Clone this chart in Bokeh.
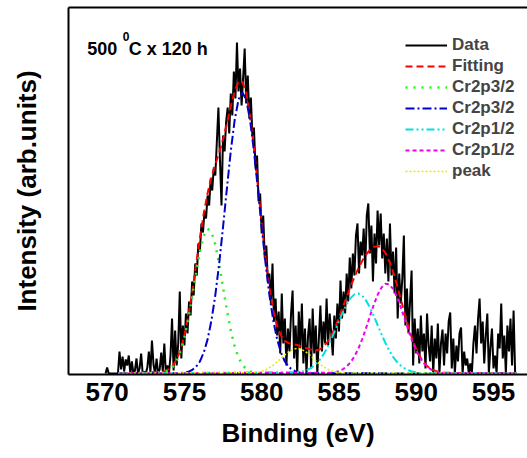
import numpy as np
from bokeh.plotting import figure
from bokeh.models import Range1d, LinearAxis, FixedTicker, Legend, LegendItem, Label
from bokeh.embed import file_html
from bokeh.resources import INLINE

FONT = "Liberation Sans"

# ---------------- data ----------------
data_start = 569.9
data_step = 0.1
intensity = [
    0, 6, 0, 0, 0, 0, 0, 0,                                   # 569.9 - 570.6
    0, 22, 4, 17, 2, 14, 8, 18, 0, 12, 0, 3, 15, 0, 5, 20, 0, 2, 0, 6,
    22, 1, 33, 9, 0, 15, 0, 4, 21, 2, 30, 0, 8,               # 570.7 - 573.9
    0, 18, 55, 3, 43, 8, 30, 82, 15, 48, 28, 60, 40, 72, 58, 92, 78, 110,
    98, 130, 122,                                             # 574.0 - 576.0
    150, 141, 162, 155, 178, 168, 195, 183, 206, 198,
    232, 266, 214, 168, 238, 222, 252, 266, 240, 280,         # 576.1 - 578.0
    258, 302, 275, 331, 282, 305, 268, 296, 325, 270, 298, 255, 276, 238, 246,
    205, 218, 172, 180, 140, 158, 115, 128, 92, 100, 70, 110, 52, 75, 38,
    62, 20, 80, 30, 55, 8, 45, 22, 60, 83,                    # 579.6 - 582.0
    15, 48, 0, 62, 25, 70, 10, 45, 0, 38, 55, 5, 65, 20, 48, 0, 35, 68,
    22, 52, 30, 75, 28, 60,                                   # 582.1 - 584.4
    40, 18, 58, 35, 70, 42, 93, 55, 82, 60,
    100, 72, 116, 85, 120, 98, 138, 150, 100, 132,
    118, 145, 105, 158, 170, 120, 148, 92, 140, 110,
    163, 128, 160, 115, 140, 100, 135, 92, 150, 98,
    122, 80, 126, 55, 100, 70, 95, 138, 48, 85,
    40, 72, 103, 8, 55, 20,                                   # 584.5 - 590.0
    45, 10, 58, 22, 40, 5, 60, 28, 12, 48,
    0, 35, 15, 50, 0, 30, 44, 8, 40, 20,
    52, 61, 5, 35, 0, 28, 12, 40, 46, 0,
    22, 8, 15, 0, 10, 0, 30, 48, 20, 55,
    75, 30, 52, 10, 38, 60, 0, 26, 45, 5,
    18, 0, 40, 25, 70, 15, 38, 0, 48, 22,
    55, 8, 63, 0, 0,                                          # 590.1 - 596.5
]

comp_step = 0.25
comp_lo, comp_hi = 570.7, 596.5

green_start = 573.5   # Cr2p3/2 (green)
green_vals = [0.7, 1.6, 3.4, 6.8, 12.8, 22.3, 36.2, 54.6, 76.7, 100.2, 121.7, 137.6,
              144.8, 141.7, 129.0, 109.2, 86.1, 63.1, 43.0, 27.3, 16.1, 8.8, 4.5,
              2.1, 0.9, 0.4, 0.1]
blue_start = 574.5    # Cr2p3/2 (blue)
blue_vals = [0.2, 0.4, 0.8, 1.7, 3.5, 6.6, 12.0, 20.8, 34.1, 53.1, 78.4, 110.0, 146.5,
             185.2, 222.3, 253.2, 273.8, 281.0, 273.8, 253.2, 222.3, 185.2, 146.5,
             110.0, 78.4, 53.1, 34.1, 20.8, 12.0, 6.6, 3.5, 1.7, 0.8, 0.4, 0.2]
cyan_start = 582.5    # Cr2p1/2 (cyan)
cyan_vals = [1.4, 2.4, 3.9, 6.1, 9.3, 13.5, 19.1, 26.0, 34.0, 43.0, 52.2, 61.3, 69.2,
             75.4, 79.1, 80.0, 77.9, 73.1, 66.2, 57.7, 48.5, 39.3, 30.7, 23.1, 16.7,
             11.7, 7.9, 5.1, 3.2, 1.9, 1.1, 0.6, 0.3]
magenta_start = 584.5  # Cr2p1/2 (magenta)
magenta_vals = [0.7, 1.3, 2.4, 4.2, 7.0, 11.2, 17.0, 24.7, 34.2, 45.2, 57.0, 68.5,
                78.6, 85.9, 89.7, 89.2, 84.7, 76.7, 66.3, 54.6, 42.9, 32.2, 23.0,
                15.7, 10.2, 6.3, 3.7, 2.1, 1.1, 0.6, 0.3]
yellow_start = 579.5   # peak (yellow)
yellow_vals = [0.7, 1.3, 2.3, 3.7, 5.8, 8.4, 11.6, 15.2, 18.7, 21.8, 24.0, 25.0, 24.5,
               22.8, 20.0, 16.6, 13.0, 9.6, 6.7, 4.5, 2.8, 1.6, 0.9, 0.5, 0.2]

x_ticks = [570, 575, 580, 585, 590, 595]
x_min, x_max = 567.5, 597.2
y_min, y_max = -1, 366

# ---------------- build ----------------
energy = np.round(data_start + data_step * np.arange(len(intensity)), 3)


def comp_xy(start, vals):
    xs = start + comp_step * np.arange(len(vals))
    xs = np.concatenate([[comp_lo], xs, [comp_hi]])
    ys = np.concatenate([[0.0], np.array(vals, float), [0.0]])
    return xs, ys


comps = {
    "green": comp_xy(green_start, green_vals),
    "blue": comp_xy(blue_start, blue_vals),
    "cyan": comp_xy(cyan_start, cyan_vals),
    "magenta": comp_xy(magenta_start, magenta_vals),
    "yellow": comp_xy(yellow_start, yellow_vals),
}
fit_x = np.round(np.arange(570.75, 596.5 + 1e-9, comp_step), 3)
fit_y = sum(np.interp(fit_x, xs, ys, left=0, right=0) for xs, ys in comps.values())

p = figure(width=527, height=458, x_range=Range1d(x_min, x_max),
           y_range=Range1d(y_min, y_max), output_backend="svg",
           toolbar_location=None, min_border_left=68, min_border_right=0,
           min_border_top=7, min_border_bottom=84)
p.grid.visible = False
p.outline_line_color = None
p.background_fill_color = "white"

xa = p.xaxis[0]
xa.ticker = FixedTicker(ticks=x_ticks)
xa.major_tick_line_color = None
xa.minor_tick_line_color = None
xa.major_tick_out = 0
xa.minor_tick_out = 0
xa.major_label_standoff = 8
xa.major_label_text_font = FONT
xa.major_label_text_font_style = "bold"
xa.major_label_text_font_size = "26px"
xa.major_label_text_color = "black"
xa.axis_line_width = 2
xa.axis_line_color = "black"
xa.axis_label = "Binding (eV)"
xa.axis_label_text_font = FONT
xa.axis_label_text_font_style = "bold"
xa.axis_label_text_font_size = "26px"
xa.axis_label_text_color = "black"
xa.axis_label_standoff = 14

ya = p.yaxis[0]
ya.ticker = FixedTicker(ticks=[])
ya.major_tick_line_color = None
ya.minor_tick_line_color = None
ya.major_tick_out = 0
ya.minor_tick_out = 0
ya.major_label_standoff = 0
ya.axis_line_width = 2
ya.axis_line_color = "black"
ya.axis_label = "Intensity (arb.units)"
ya.axis_label_text_font = FONT
ya.axis_label_text_font_style = "bold"
ya.axis_label_text_font_size = "26px"
ya.axis_label_text_color = "black"
ya.axis_label_standoff = 27

top = LinearAxis(ticker=FixedTicker(ticks=[]), axis_line_width=2, axis_line_color="black",
                 major_tick_line_color=None, minor_tick_line_color=None,
                 major_tick_out=0, minor_tick_out=0, major_label_standoff=0)
p.add_layout(top, "above")

r_data = p.line(energy, intensity, line_color="black", line_width=2)
r_fit = p.line(fit_x, fit_y, line_color="#ff0000", line_width=2, line_dash="7 4")
gx, gy = comps["green"]
r_green = p.line(gx, gy, line_color="#22ee22", line_width=2.5, line_dash="2 6")
bx, by = comps["blue"]
r_blue = p.line(bx, by, line_color="#0000cc", line_width=2, line_dash="9 3 2 3")
cx, cy = comps["cyan"]
r_cyan = p.line(cx, cy, line_color="#00e0e0", line_width=2, line_dash="8 3 2 3 2 3")
mx, my = comps["magenta"]
r_mag = p.line(mx, my, line_color="#ee00ee", line_width=2, line_dash="4 3")
yx, yy = comps["yellow"]
r_yel = p.line(yx, yy, line_color="#e8e800", line_width=1.6, line_dash="2 2")

legend = Legend(items=[
    LegendItem(label="Data", renderers=[r_data]),
    LegendItem(label="Fitting", renderers=[r_fit]),
    LegendItem(label="Cr2p3/2", renderers=[r_green]),
    LegendItem(label="Cr2p3/2", renderers=[r_blue]),
    LegendItem(label="Cr2p1/2", renderers=[r_cyan]),
    LegendItem(label="Cr2p1/2", renderers=[r_mag]),
    LegendItem(label="peak", renderers=[r_yel]),
], location=(337, 193), glyph_width=42, glyph_height=20, label_height=20,
    label_standoff=5, spacing=1, padding=0, margin=0,
    label_text_font=FONT, label_text_font_style="bold", label_text_font_size="17px",
    border_line_color=None, background_fill_alpha=0)
p.add_layout(legend)

for txt, x, y, size in [("500", 568.71, 324.7, "18px"),
                        ("0", 571.01, 337.3, "12px"),
                        ("C x 120 h", 571.40, 324.7, "18px")]:
    p.add_layout(Label(x=x, y=y, text=txt, text_font=FONT, text_font_style="bold",
                       text_font_size=size, text_baseline="alphabetic",
                       text_color="black"))

open("out.html", "w").write(file_html(p, INLINE))
